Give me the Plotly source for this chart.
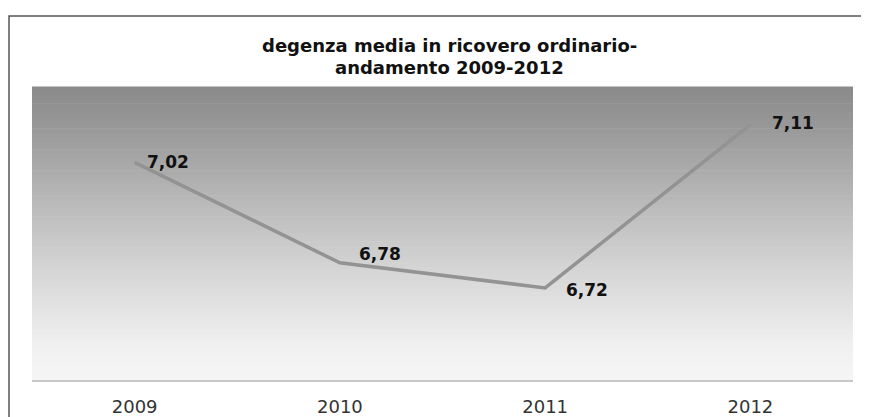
import plotly.graph_objects as go

years = ["2009", "2010", "2011", "2012"]
degenza = [7.02, 6.78, 6.72, 7.11]
title_lines = ["degenza media in ricovero ordinario-", "andamento 2009-2012"]

# label offsets (pixels) relative to each point
label_dx = [10, 17, 19, 20]
label_dy = [0, 9, -2, 2]

fig = go.Figure()
fig.add_trace(go.Scatter(
    x=years, y=degenza, mode="lines",
    line=dict(color="#939393", width=3.5),
    showlegend=False, hoverinfo="skip"))

annotations = []
for i, (v, dx, dy) in enumerate(zip(degenza, label_dx, label_dy)):
    annotations.append(dict(x=i, y=v, xref="x", yref="y",
                            text=f"{v:.2f}".replace(".", ","), showarrow=False,
                            xanchor="left", yanchor="middle", xshift=dx, yshift=dy,
                            font=dict(family="DejaVu Sans", size=17, color="#111111", weight="bold")))

# title lines
for line, ypos in zip(title_lines, [1.143, 1.068]):
    annotations.append(dict(text=line, xref="paper", yref="paper",
                            x=0.5085, y=ypos, xanchor="center", yanchor="middle",
                            showarrow=False,
                            font=dict(family="DejaVu Sans", size=18, color="#111111", weight="bold")))

# gradient background: dark gray at top to near white at bottom
shapes = []
n = 70
def lerp(a, b, t):
    return int(round(a + (b - a) * t))
stops = [(0.0, 0xF5), (0.12, 0xF0), (0.35, 0xD8), (0.6, 0xBA), (0.85, 0x9A), (1.0, 0x8A)]
for k in range(n):
    y0 = k / n
    y1 = (k + 1) / n
    t = (y0 + y1) / 2
    for j in range(len(stops) - 1):
        if stops[j][0] <= t <= stops[j + 1][0]:
            a, ca = stops[j]
            b, cb = stops[j + 1]
            c = lerp(ca, cb, (t - a) / (b - a))
            break
    shapes.append(dict(type="rect", xref="x domain", yref="y domain",
                       x0=0, x1=1, y0=y0, y1=y1 + 0.002, layer="below",
                       line=dict(width=0), fillcolor=f"rgb({c},{c},{c})"))
# outer frame (only top and left edges fall inside the picture)
shapes.append(dict(type="rect", xref="paper", yref="paper",
                   x0=-0.028, x1=1.2, y0=-0.4, y1=1.242,
                   line=dict(color="#555555", width=1.5), fillcolor="rgba(0,0,0,0)"))

fig.update_layout(
    width=861, height=409,
    margin=dict(l=24, r=16, t=79, b=37),
    paper_bgcolor="white", plot_bgcolor="white",
    shapes=shapes,
    annotations=annotations,
    xaxis=dict(type="category", range=[-0.5, 3.5], showgrid=False, automargin=False,
               showline=True, linecolor="#c8c8c8", linewidth=1.5, ticks="",
               ticklabelstandoff=10,
               tickfont=dict(family="DejaVu Sans", size=18, color="#333333")),
    yaxis=dict(range=[6.5, 7.2], visible=False, automargin=False),
)

fig.write_html("out.html")
